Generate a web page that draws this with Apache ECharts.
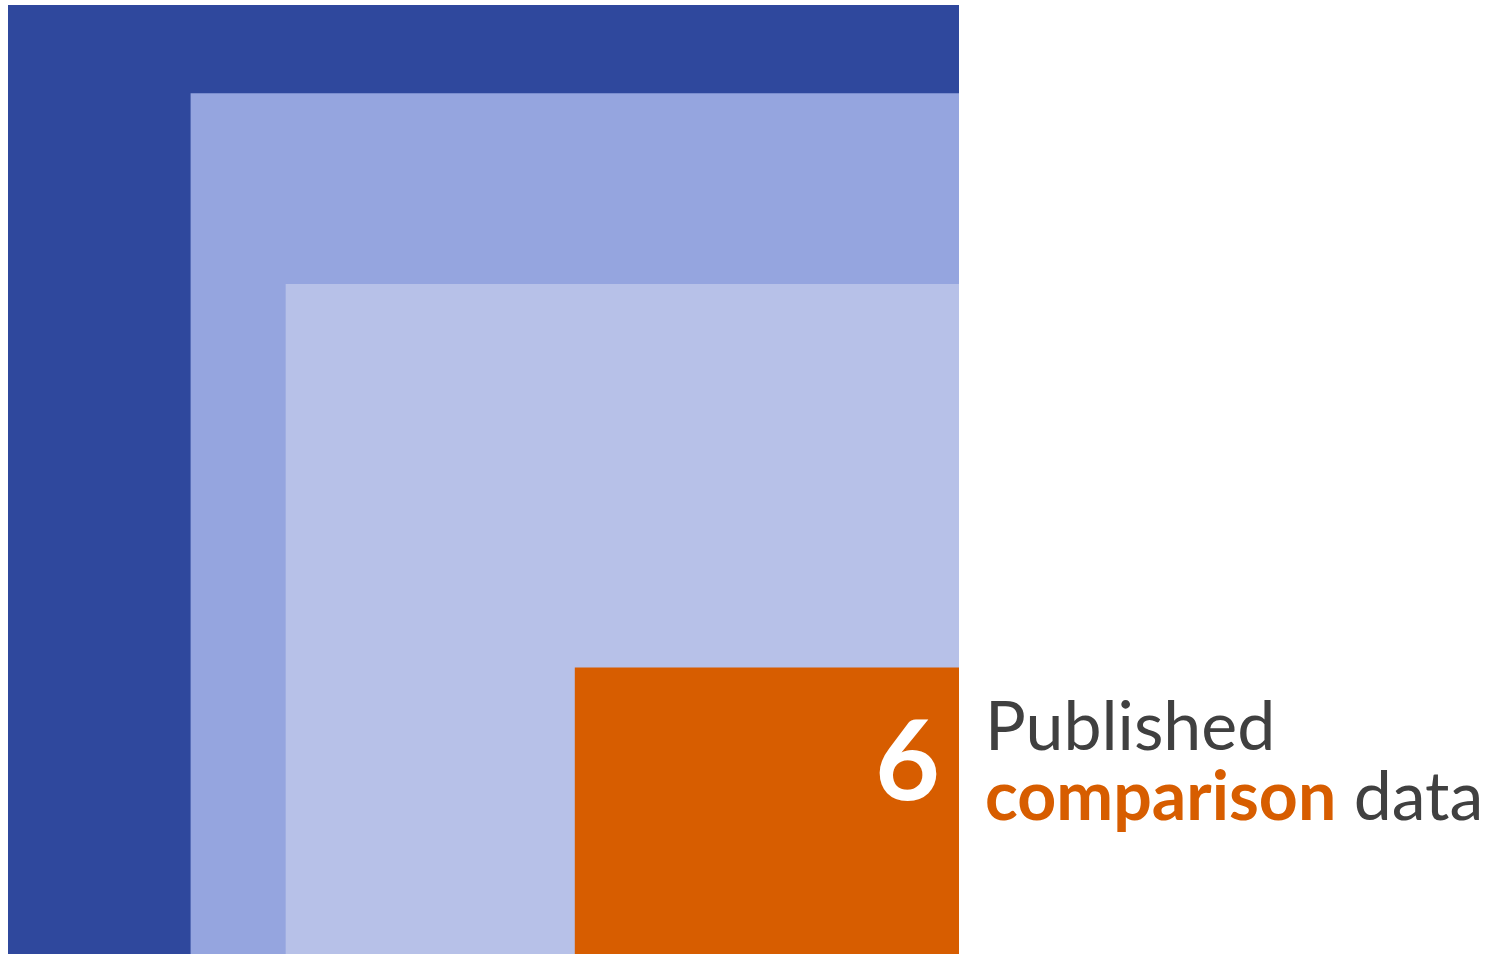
<!DOCTYPE html>
<html>
<head>
<meta charset="utf-8">
<script src="https://cdn.jsdelivr.net/npm/echarts@6/dist/echarts.min.js"></script>
<style>
  html, body { margin: 0; padding: 0; background: #fff; }
  #chart { width: 1502px; height: 954px; }
</style>
</head>
<body>
<div id="chart"></div>
<script>
// nested boxes, anchored at bottom-right, sizes as % of the outer box
const names = ['All data', 'Screened', 'Eligible', 'Published comparison data'];
const widths = [100, 80.8, 70.8, 40.4];
const heights = [100, 90.7, 70.6, 30.2];
const colors = ['#2F489D', '#95A5DF', '#B7C1E8', '#D75D00'];
const labelValue = '6';

let chart = echarts.init(document.getElementById('chart'));

let data = names.map(function (n, i) {
  return { name: n, value: [widths[i], heights[i]], itemStyle: { color: colors[i] } };
});

chart.setOption({
  animation: false,
  grid: { left: 8, right: 543, top: 5, bottom: 0 },
  xAxis: { type: 'value', min: 0, max: 100, show: false },
  yAxis: { type: 'value', min: 0, max: 100, show: false },
  series: [{
    type: 'custom',
    data: data,
    renderItem: function (params, api) {
      let w = api.value(0), h = api.value(1);
      let p0 = api.coord([100 - w, h]);
      let p1 = api.coord([100, 0]);
      let children = [{
        type: 'rect',
        shape: { x: p0[0], y: p0[1], width: p1[0] - p0[0], height: p1[1] - p0[1] },
        style: { fill: colors[params.dataIndex] }
      }];
      if (params.dataIndex === names.length - 1) {
        let cy = p0[1] + 96;
        children.push({
          type: 'text',
          x: p1[0] - 19, y: cy,
          style: {
            text: labelValue, fill: '#fff', fontFamily: 'Lato', fontWeight: 'bold',
            fontSize: 112, align: 'right', verticalAlign: 'middle'
          }
        });
        children.push({
          type: 'text',
          x: p1[0] + 26, y: cy,
          style: {
            text: '{g|Published}\n{o|comparison}{g| data}',
            align: 'left', verticalAlign: 'middle',
            rich: {
              g: { fontFamily: 'Lato', fontSize: 68, fill: '#404040', lineHeight: 70 },
              o: { fontFamily: 'Lato', fontSize: 68, fontWeight: 'bold', fill: '#D75D00', lineHeight: 70 }
            }
          }
        });
      }
      return { type: 'group', children: children };
    }
  }]
});
</script>
</body>
</html>
